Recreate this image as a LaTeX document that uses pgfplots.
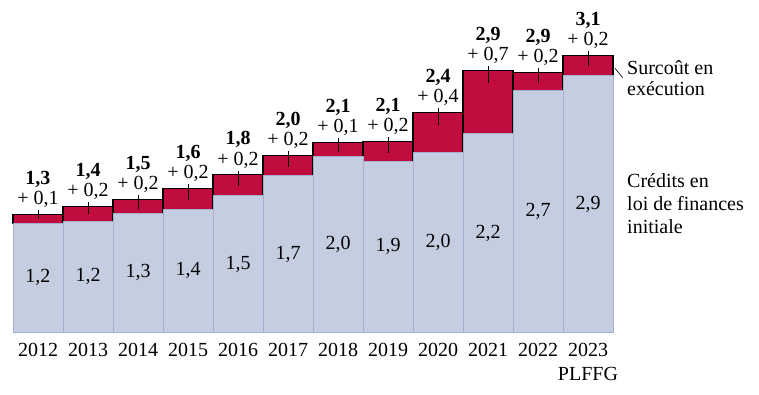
\documentclass[border=0pt]{standalone}
\usepackage{fontspec}
\setmainfont{Liberation Serif}
\usepackage{pgfplots}
\usepackage{pgfplotstable}
\pgfplotsset{compat=1.18}
\definecolor{basecol}{RGB}{197,206,224}
\definecolor{baseedge}{RGB}{160,176,206}
\definecolor{surcol}{RGB}{192,13,61}
\pgfplotstableread{
x base sur ep em
0 1.232 0.101 0.045 0.056
1 1.254 0.170 0.045 0.090
2 1.345 0.158 0.045 0.110
3 1.390 0.237 0.045 0.130
4 1.543 0.238 0.045 0.130
5 1.770 0.230 0.045 0.130
6 1.989 0.158 0.045 0.110
7 1.932 0.226 0.045 0.130
8 2.034 0.452 0.045 0.140
9 2.244 0.716 0.045 0.145
10 2.734 0.204 0.045 0.125
11 2.899 0.231 0.045 0.120
}\data
\newcommand\lab[3]{%
  \node[yshift=35pt] at (t#1) {\textbf{#2}};
  \node[yshift=14.5pt] at (t#1) {+ #3};}
\begin{document}
\begin{tikzpicture}[font=\fontsize{20}{22}\selectfont]
\begin{axis}[
 scale only axis, width=600pt, height=332.3pt,
 xmin=-0.5, xmax=11.5, ymin=0, ymax=3.755,
 ybar stacked, bar width=1,
 axis x line=bottom, axis y line=none,
 x axis line style={-, line width=1.4pt},
 xtick={0,...,11},
 xticklabels={2012,2013,2014,2015,2016,2017,2018,2019,2020,2021,2022,{2023\\PLFFG}},
 xticklabel style={align=center, font=\fontsize{20}{24}\selectfont, yshift=-7pt},
 major tick length=0pt,
 clip=false,
]
\coordinate (o) at (rel axis cs:0,0);
\addplot[fill=basecol, draw=baseedge, line width=0.6pt] table[x=x, y=base] {\data};
\addplot[fill=surcol, draw=black, line width=1.2pt,
  error bars/.cd, y dir=both, y explicit, error mark=none,
  error bar style={black, line width=1pt}]
  table[x=x, y=sur, y error plus=ep, y error minus=em] {\data};
\coordinate (b0) at (axis cs:0,0.616);
\coordinate (b1) at (axis cs:1,0.627);
\coordinate (b2) at (axis cs:2,0.672);
\coordinate (b3) at (axis cs:3,0.695);
\coordinate (b4) at (axis cs:4,0.771);
\coordinate (b5) at (axis cs:5,0.885);
\coordinate (b6) at (axis cs:6,0.994);
\coordinate (b7) at (axis cs:7,0.966);
\coordinate (b8) at (axis cs:8,1.017);
\coordinate (b9) at (axis cs:9,1.122);
\coordinate (b10) at (axis cs:10,1.367);
\coordinate (b11) at (axis cs:11,1.450);
\coordinate (t0) at (axis cs:0,1.333);
\coordinate (t1) at (axis cs:1,1.424);
\coordinate (t2) at (axis cs:2,1.503);
\coordinate (t3) at (axis cs:3,1.627);
\coordinate (t4) at (axis cs:4,1.781);
\coordinate (t5) at (axis cs:5,2.000);
\coordinate (t6) at (axis cs:6,2.147);
\coordinate (t7) at (axis cs:7,2.158);
\coordinate (t8) at (axis cs:8,2.486);
\coordinate (t9) at (axis cs:9,2.960);
\coordinate (t10) at (axis cs:10,2.938);
\coordinate (t11) at (axis cs:11,3.130);
\coordinate (l1) at (axis cs:11.54,2.983);
\coordinate (l2) at (axis cs:11.694,2.877);
\coordinate (s) at (axis cs:11.78,2.868);
\coordinate (c) at (axis cs:11.78,1.45);
\end{axis}
\node at (b0) {1,2};
\node at (b1) {1,2};
\node at (b2) {1,3};
\node at (b3) {1,4};
\node at (b4) {1,5};
\node at (b5) {1,7};
\node at (b6) {2,0};
\node at (b7) {1,9};
\node at (b8) {2,0};
\node at (b9) {2,2};
\node at (b10) {2,7};
\node at (b11) {2,9};
\lab{0}{1,3}{0,1}
\lab{1}{1,4}{0,2}
\lab{2}{1,5}{0,2}
\lab{3}{1,6}{0,2}
\lab{4}{1,8}{0,2}
\lab{5}{2,0}{0,2}
\lab{6}{2,1}{0,1}
\lab{7}{2,1}{0,2}
\lab{8}{2,4}{0,4}
\lab{9}{2,9}{0,7}
\lab{10}{2,9}{0,2}
\lab{11}{3,1}{0,2}
\draw[black, line width=0.6pt] (l1) -- (l2);
\node[anchor=west, inner sep=0pt, align=left, font=\fontsize{20}{21}\selectfont] at (s) {Surcoût en\\exécution};
\node[anchor=west, inner sep=0pt, align=left, font=\fontsize{20}{23}\selectfont] at (c) {Crédits en\\loi de finances\\initiale};
\pgfresetboundingbox
\path ([shift={(-13pt,-62.7pt)}]o) rectangle ++(759pt,395pt);
\end{tikzpicture}
\end{document}
